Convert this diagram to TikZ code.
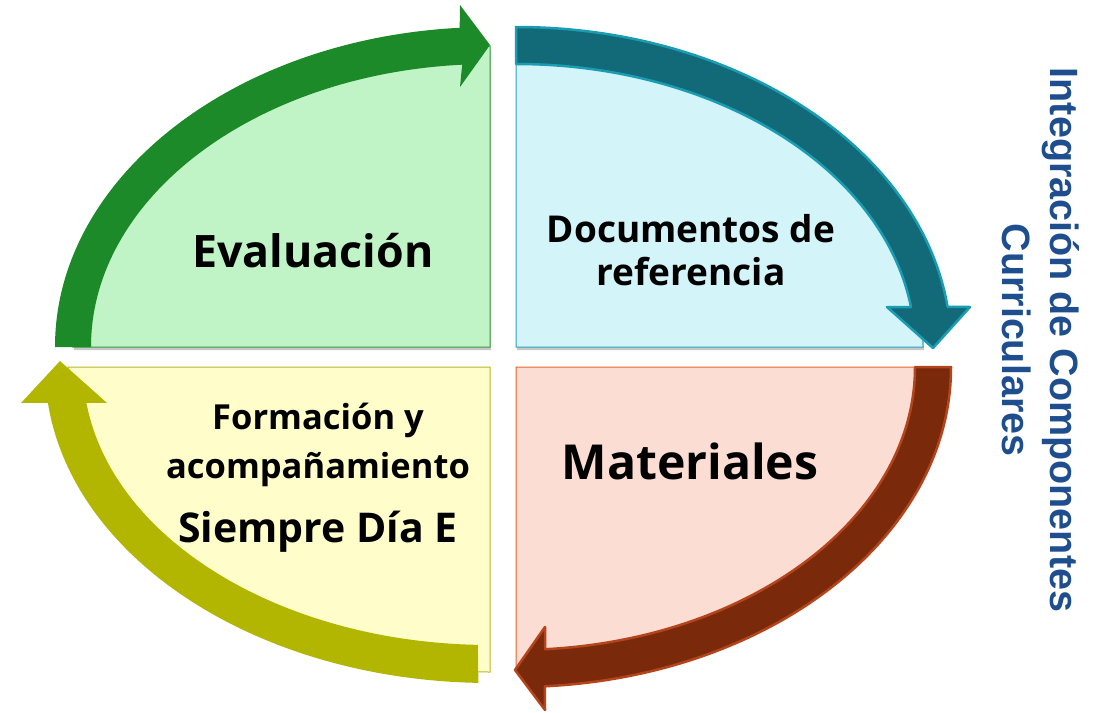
\documentclass[tikz,border=0pt]{standalone}
\usepackage{fontspec}
\setmainfont{Open Sans}
\newfontfamily\arialfont{Liberation Sans}
\usetikzlibrary{calc}
\definecolor{gfill}{HTML}{C0F3C6}
\definecolor{gline}{HTML}{3A9A3E}
\definecolor{garrow}{HTML}{1C8A28}
\definecolor{tfill}{HTML}{D3F4F9}
\definecolor{tline}{HTML}{2AA3B8}
\definecolor{tarrow}{HTML}{126A78}
\definecolor{tborder}{HTML}{1A9DB3}
\definecolor{yfill}{HTML}{FFFDCA}
\definecolor{yline}{HTML}{B8B82A}
\definecolor{yarrow}{HTML}{B2B600}
\definecolor{sfill}{HTML}{FBDDD3}
\definecolor{sline}{HTML}{E8662E}
\definecolor{barrow}{HTML}{7A2A0B}
\definecolor{bborder}{HTML}{B3441B}
\definecolor{blueT}{HTML}{1F4E8F}
\begin{document}
\begin{tikzpicture}[x=1pt,y=-1pt,
  shadowpie/.style={fill=black,opacity=0.22},
  sector/.style={line width=1pt},
  lbl/.style={anchor=base,inner sep=0pt,text=black}]
\useasboundingbox (0,0) rectangle (1105,712);
\coordinate (Cg) at (490,347);
\coordinate (Ct) at (516,347);
\coordinate (Co) at (490,367);
\coordinate (Cb) at (516,367);
% shadows
\fill[shadowpie] ($(Cg)+(1,3)$) -- ++(-417,0) arc[start angle=180,end angle=270,x radius=417,y radius=301] -- cycle;
\fill[shadowpie] ($(Ct)+(1,3)$) -- ++(0,-295) arc[start angle=270,end angle=360,x radius=407,y radius=295] -- cycle;
% sectors
\filldraw[sector,fill=gfill,draw=gline] (Cg) -- ++(-417,0) arc[start angle=180,end angle=270,x radius=417,y radius=301] -- cycle;
\filldraw[sector,fill=tfill,draw=tline] (Ct) -- ++(0,-295) arc[start angle=270,end angle=360,x radius=407,y radius=295] -- cycle;
\filldraw[sector,fill=yfill,draw=yline] (Co) -- ++(-422,0) arc[start angle=180,end angle=90,x radius=422,y radius=305] -- cycle;
\filldraw[sector,fill=sfill,draw=sline] (Cb) -- ++(417,0) arc[start angle=0,end angle=90,x radius=417,y radius=301] -- cycle;
% arrows
\fill[garrow] ($(Cg)+(180:435 and 320)$) arc[start angle=180,end angle=266,x radius=435,y radius=320] -- (460,5) -- (490,45) -- (460,87) -- ($(Cg)+(266:399 and 283)$) arc[start angle=266,end angle=180,x radius=399,y radius=283] -- cycle;
\filldraw[fill=tarrow,draw=tborder,line width=2.5pt,line join=round] ($(Ct)+(270:435 and 320)$) arc[start angle=270,end angle=352.8,x radius=435,y radius=320] -- (970,307) -- (933,348) -- (887,307) -- ($(Ct)+(351.9:399 and 283)$) arc[start angle=351.9,end angle=270,x radius=399,y radius=283] -- cycle;
\fill[yarrow] ($(Co)+(91.5:445 and 316)$) arc[start angle=91.5,end angle=173.5,x radius=445,y radius=316] -- (21,403) -- (60,361) -- (107,403) -- ($(Co)+(172.6:407 and 278)$) arc[start angle=172.6,end angle=91.7,x radius=407,y radius=278] -- cycle;
\filldraw[fill=barrow,draw=bborder,line width=2.5pt,line join=round] ($(Cb)+(0:435 and 320)$) arc[start angle=0,end angle=86.2,x radius=435,y radius=320] -- (545,710) -- (515,670) -- (545,627) -- ($(Cb)+(85.8:399 and 283)$) arc[start angle=85.8,end angle=0,x radius=399,y radius=283] -- cycle;
% texts
\node[lbl,font=\bfseries\fontsize{44.7}{48}\selectfont] (eval) at (313,267) {Evaluación};
\node[lbl,font=\bfseries\fontsize{37}{40}\selectfont] (doc1) at (691,242) {Documentos de};
\node[lbl,font=\bfseries\fontsize{37}{40}\selectfont] (doc2) at (691,285) {referencia};
\node[lbl,font=\bfseries\fontsize{34.5}{38}\selectfont] (form1) at (318,429) {Formación y};
\node[lbl,font=\bfseries\fontsize{34.5}{38}\selectfont] (form2) at (318,478) {acompañamiento};
\node[lbl,font=\bfseries\fontsize{41}{44}\selectfont] (form3) at (318,542) {Siempre Día E};
\node[lbl,font=\bfseries\fontsize{48.2}{52}\selectfont] (mat) at (690,479) {Materiales};
\node[rotate=-90,align=center,text=blueT,inner sep=0pt,font=\arialfont\bfseries\fontsize{39.5}{48}\selectfont] (title) at (1041,340) {Integración de Componentes\\Curriculares};
\end{tikzpicture}
\end{document}
